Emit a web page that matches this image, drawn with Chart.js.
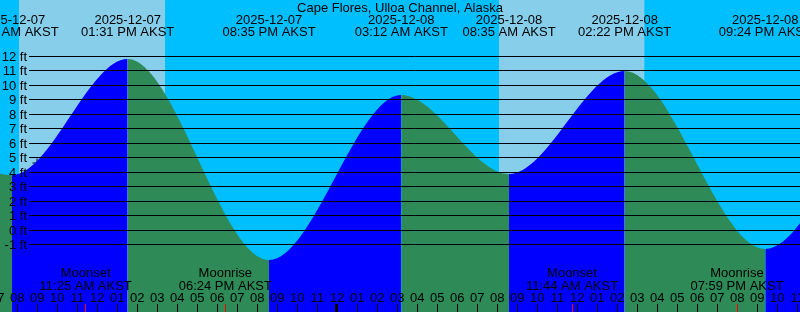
<!DOCTYPE html>
<html>
<head>
<meta charset="utf-8">
<script src="https://cdn.jsdelivr.net/npm/chart.js@4.4.0/dist/chart.umd.min.js"></script>
<style>
  html, body { margin: 0; padding: 0; background: #00BFFF; overflow: hidden; }
  #wrap { width: 800px; height: 312px; position: relative; }
</style>
</head>
<body>
<div id="wrap"><canvas id="tideChart"></canvas></div>
<script>
const stationName = 'Cape Flores, Ulloa Channel, Alaska';
const tzName = 'AKST';

// tide highs/lows (local time). first two and last two are off screen,
// they only keep the curve shape right at the edges
const tideTimes = [
  '2025-12-06 19:10', '2025-12-07 01:20', '2025-12-07 07:44', '2025-12-07 13:31',
  '2025-12-07 20:35', '2025-12-08 03:12', '2025-12-08 08:35', '2025-12-08 14:22',
  '2025-12-08 21:24', '2025-12-09 03:40', '2025-12-09 09:40'
];
const tideHeights = [-0.6, 8.6, 3.8, 11.81, -2.05, 9.33, 3.88, 10.99, -1.29, 8.2, 4.2];

// daylight bands
const sunriseTimes = ['2025-12-07 08:05', '2025-12-08 08:05'];
const sunsetTimes = ['2025-12-07 15:23', '2025-12-08 15:21'];

// moon events
const moonTimes = ['2025-12-07 11:25', '2025-12-07 18:24', '2025-12-08 11:44', '2025-12-08 19:59'];
const moonEvents = ['Moonset', 'Moonrise', 'Moonset', 'Moonrise'];

// "now" marker
const nowTime = ['2025-12-07 08:59'];
const nowHeight = [4.64];

// y axis tick labels (ft)
const footTicks = [12, 11, 10, 9, 8, 7, 6, 5, 4, 3, 2, 1, 0, -1];

const viewStart = '2025-12-07 07:08';
const viewHours = 40;

const NIGHT = '#00BFFF';
const DAY = '#87CEEB';
const RISE = '#0000FF';
const FALL = '#2E8B57';
const FONT = '13px "Liberation Sans", Arial, sans-serif';

// hours since 2025-12-07 00:00
function toHours(s) {
    const [d, hm] = s.split(' ');
    const day = Number(d.slice(8)) - 7;
    const [h, m] = hm.split(':').map(Number);
    return day * 24 + h + m / 60;
}

function clockLabel(s) {
    const [h, m] = s.split(' ')[1].split(':').map(Number);
    const h12 = (h % 12) || 12;
    return String(h12).padStart(2, '0') + ':' + String(m).padStart(2, '0') +
        (h < 12 ? ' AM ' : ' PM ') + tzName;
}

const xMin = toHours(viewStart);
const xMax = xMin + viewHours;

const tidePoints = tideTimes.map((t, i) => ({ x: toHours(t), y: tideHeights[i] }));
const nowPoints = nowTime.map((t, i) => ({ x: toHours(t), y: nowHeight[i] }));

const tideDecor = {
    id: 'tideDecor',
    beforeDraw(chart) {
        const { ctx, scales: { x } } = chart;
        ctx.save();
        ctx.fillStyle = NIGHT;
        ctx.fillRect(0, 0, chart.width, chart.height);
        ctx.fillStyle = DAY;
        sunriseTimes.forEach((t, i) => {
            const x0 = x.getPixelForValue(toHours(t));
            const x1 = x.getPixelForValue(toHours(sunsetTimes[i]));
            ctx.fillRect(x0, 0, x1 - x0, chart.height);
        });
        ctx.restore();
    },
    afterDatasetsDraw(chart) {
        const { ctx, scales: { x, y } } = chart;
        ctx.save();
        ctx.fillStyle = '#000';
        ctx.strokeStyle = '#000';
        ctx.lineWidth = 1;
        ctx.font = FONT;
        ctx.textBaseline = 'alphabetic';

        // ft grid lines + labels
        footTicks.forEach(v => {
            const py = Math.floor(y.getPixelForValue(v));
            ctx.beginPath();
            ctx.moveTo(29, py + 0.5);
            ctx.lineTo(chart.width, py + 0.5);
            ctx.stroke();
            ctx.textAlign = 'right';
            ctx.fillText(v + ' ft', 27, py + 5);
        });

        // title
        ctx.textAlign = 'center';
        ctx.fillText(stationName, chart.width / 2, 12);

        // high / low labels
        tideTimes.forEach(t => {
            const px = x.getPixelForValue(toHours(t));
            ctx.fillText(t.split(' ')[0], px, 24);
            ctx.fillText(clockLabel(t), px, 36);
        });

        // moon labels
        moonTimes.forEach((t, i) => {
            const px = x.getPixelForValue(toHours(t));
            ctx.fillText(moonEvents[i], px, 277);
            ctx.fillText(clockLabel(t), px, 290);
        });

        // hour labels and ticks
        for (let h = Math.ceil(xMin) - 1; h <= Math.floor(xMax) + 1; h++) {
            const px = x.getPixelForValue(h);
            const lbl = String((h % 12) || 12).padStart(2, '0');
            ctx.fillText(lbl, px, 302);
            if (h % 24 === 0) {
                ctx.fillRect(Math.floor(px) - 2, 304, 3, 8);
            } else {
                ctx.fillRect(Math.floor(px), 304, 1, 8);
            }
        }
        ctx.fillStyle = '#FF0000';
        moonTimes.forEach(t => {
            const px = x.getPixelForValue(toHours(t));
            ctx.fillRect(Math.floor(px), 304, 1, 8);
        });
        ctx.restore();
    }
};

const ctx = document.getElementById('tideChart').getContext('2d');
new Chart(ctx, {
    type: 'line',
    data: {
        datasets: [
            {
                data: tidePoints,
                fill: 'start',
                borderWidth: 0,
                borderColor: 'rgba(0,0,0,0)',
                pointRadius: 0,
                tension: 0.4,
                cubicInterpolationMode: 'monotone',
                capBezierPoints: false,
                backgroundColor: RISE,
                segment: {
                    backgroundColor: c => c.p1.parsed.y >= c.p0.parsed.y ? RISE : FALL
                }
            },
            {
                data: nowPoints,
                showLine: false,
                fill: false,
                pointStyle: 'cross',
                pointRadius: 4.5,
                borderColor: '#000',
                borderWidth: 1
            }
        ]
    },
    options: {
        responsive: true,
        maintainAspectRatio: false,
        animation: false,
        events: [],
        layout: { padding: 0, autoPadding: false },
        plugins: {
            legend: { display: false },
            tooltip: { enabled: false },
            title: { display: false }
        },
        scales: {
            x: { type: 'linear', display: false, min: xMin, max: xMax },
            y: { type: 'linear', display: false, min: -(312 - 230.3) / 14.5, max: 230.3 / 14.5 }
        }
    },
    plugins: [tideDecor]
});
</script>
</body>
</html>
